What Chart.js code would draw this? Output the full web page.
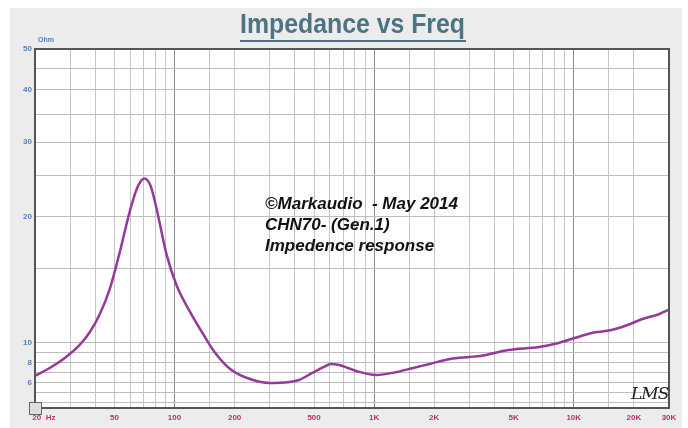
<!DOCTYPE html>
<html>
<head>
<meta charset="utf-8">
<script src="https://cdn.jsdelivr.net/npm/chart.js@4"></script>
<style>
  body { margin: 0; background: #fff; }
  #wrap { position: relative; width: 688px; height: 428px; }
  #panel { position: absolute; left: 10px; top: 8px; width: 672px; height: 420px; background: #ececec; }
  canvas { position: absolute; left: 0; top: 0; }
  .title { position: absolute; left: 240px; top: 9px; font: bold 27px "Liberation Sans", Arial, sans-serif; color: #4d7485; transform: scaleX(0.92); transform-origin: left top; white-space: nowrap; }
  .uline { position: absolute; left: 240px; top: 40px; width: 226px; height: 2px; background: #4d7485; }
  .note { position: absolute; left: 265px; top: 193px; font: italic bold 17px "Liberation Sans", Arial, sans-serif; line-height: 21px; color: #111; white-space: pre; }
  .ohm { position: absolute; left: 38px; top: 36px; font: bold 7px "Liberation Sans", Arial, sans-serif; color: #5b7db3; }
  .lms { position: absolute; left: 631px; top: 383px; font: italic 17px "DejaVu Serif", serif; color: #222; letter-spacing: -1px; }
  .icon { position: absolute; left: 29px; top: 402px; width: 11px; height: 11px; border: 1px solid #666; background: #ddd; }
</style>
</head>
<body>
<div id="wrap">
  <div id="panel"></div>
  <canvas id="myChart" width="688" height="428"></canvas>
  <div class="title">Impedance vs Freq</div>
  <div class="uline"></div>
  <div class="ohm">Ohm</div>
  <div class="note">©Markaudio  - May 2014
CHN70- (Gen.1)
Impedence response</div>
  <div class="lms">LMS</div>
  <div class="icon"></div>
</div>
<script>
const freqHz = [20, 23.7, 28.2, 33.5, 37.6, 42.2, 47.3, 53.1, 59.6, 64.6, 68, 70.5, 73, 76, 81.4, 91.3, 102.5, 119.6, 139, 160, 190, 231, 300, 376, 421, 490, 560, 605, 668, 740, 812, 1025, 1300, 1570, 1900, 2400, 3000, 3400, 4700, 6700, 8400, 10300, 12300, 15000, 18300, 22100, 26700, 30000];
const impedance = [6.7, 7.5, 8.5, 9.8, 10.6, 11.7, 13.4, 16.4, 20.5, 23.2, 24.3, 24.6, 24.4, 23.6, 20.8, 16.2, 13.7, 11.85, 10.5, 9.0, 7.4, 6.5, 6.0, 6.1, 6.3, 7.0, 7.6, 7.9, 7.8, 7.5, 7.2, 6.8, 7.1, 7.5, 7.9, 8.4, 8.6, 8.7, 9.3, 9.6, 10.0, 10.3, 10.56, 10.7, 11.0, 11.4, 11.7, 12.0];

// Axis ticks
const xTicks = [20, 30, 40, 50, 60, 70, 80, 90, 100, 150, 200, 300, 400, 500, 600, 700, 800, 900, 1000, 1500, 2000, 3000, 4000, 5000, 6000, 7000, 8000, 9000, 10000, 15000, 20000, 30000];
const xLabels = { 20: '\u2007\u2007\u2007\u200720  Hz', 50: '50', 100: '100', 200: '200', 500: '500', 1000: '1K', 2000: '2K', 5000: '5K', 10000: '10K', 20000: '20K', 30000: '30K' };
const xMajor = [100, 1000, 10000];
const yTicks = [4, 5, 6, 7, 8, 9, 10, 15, 20, 25, 30, 35, 40, 45, 50];
const yLabels = [6, 8, 10, 20, 30, 40, 50];

// Ohm axis: log above 10 ohm, linear below (like the original plot)
const OHM_STEP = 1 / 42;
const warp = v => v >= 10 ? Math.log10(v) : 1 + (v - 10) * OHM_STEP;
const unwarp = t => t >= 1 ? Math.pow(10, t) : 10 + (t - 1) / OHM_STEP;

class OhmScale extends Chart.LinearScale {
    static id = 'ohm';
    static defaults = Chart.LinearScale.defaults;
    buildTicks() {
        return yTicks.map(v => ({ value: v }));
    }
    getPixelForValue(value) {
        const a = warp(this.min), b = warp(this.max);
        return this.getPixelForDecimal((warp(value) - a) / (b - a));
    }
    getValueForPixel(pixel) {
        const a = warp(this.min), b = warp(this.max);
        return unwarp(a + this.getDecimalForPixel(pixel) * (b - a));
    }
}
Chart.register(OhmScale);

// white plot area + dark frame
const plotFrame = {
    id: 'plotFrame',
    beforeDraw(chart) {
        const { ctx, chartArea: a } = chart;
        ctx.save();
        ctx.fillStyle = '#fff';
        ctx.fillRect(a.left, a.top, a.right - a.left, a.bottom - a.top);
        ctx.restore();
    },
    afterDraw(chart) {
        const { ctx, chartArea: a } = chart;
        ctx.save();
        ctx.strokeStyle = '#555';
        ctx.lineWidth = 2;
        ctx.strokeRect(a.left, a.top, a.right - a.left, a.bottom - a.top);
        ctx.restore();
    }
};

const ctx = document.getElementById('myChart').getContext('2d');
new Chart(ctx, {
    type: 'line',
    data: {
        datasets: [{
            data: freqHz.map((f, i) => ({ x: f, y: impedance[i] })),
            borderColor: '#96399a',
            borderWidth: 2.5,
            pointRadius: 0,
            cubicInterpolationMode: 'monotone',
            fill: false
        }]
    },
    options: {
        responsive: false,
        devicePixelRatio: 1,
        animation: false,
        layout: { padding: { left: 0, right: 19, top: 49, bottom: 0 } },
        plugins: {
            legend: { display: false },
            tooltip: { enabled: false },
            title: { display: false }
        },
        scales: {
            x: {
                type: 'logarithmic',
                min: 20,
                max: 30000,
                afterBuildTicks: axis => { axis.ticks = xTicks.map(v => ({ value: v })); },
                afterFit: axis => { axis.height = 20; },
                border: { display: false },
                grid: {
                    drawTicks: false,
                    color: c => xMajor.includes(c.tick && c.tick.value) ? '#8a8a8a' : '#c4c4c4',
                    lineWidth: 1
                },
                ticks: {
                    autoSkip: false,
                    maxRotation: 0,
                    padding: 5,
                    color: '#b5336e',
                    font: { family: '"Liberation Sans", Arial, sans-serif', size: 8, weight: 'bold' },
                    callback: v => xLabels[v] || ''
                }
            },
            y: {
                type: 'ohm',
                min: 3.5,
                max: 50,
                afterFit: axis => { axis.width = 35; },
                border: { display: false },
                grid: { drawTicks: false, color: '#bdbdbd', lineWidth: 1 },
                ticks: {
                    autoSkip: false,
                    padding: 3,
                    color: '#5b7db3',
                    font: { family: '"Liberation Sans", Arial, sans-serif', size: 8, weight: 'bold' },
                    callback: v => yLabels.includes(v) ? String(v) : ''
                }
            }
        }
    },
    plugins: [plotFrame]
});
</script>
</body>
</html>
